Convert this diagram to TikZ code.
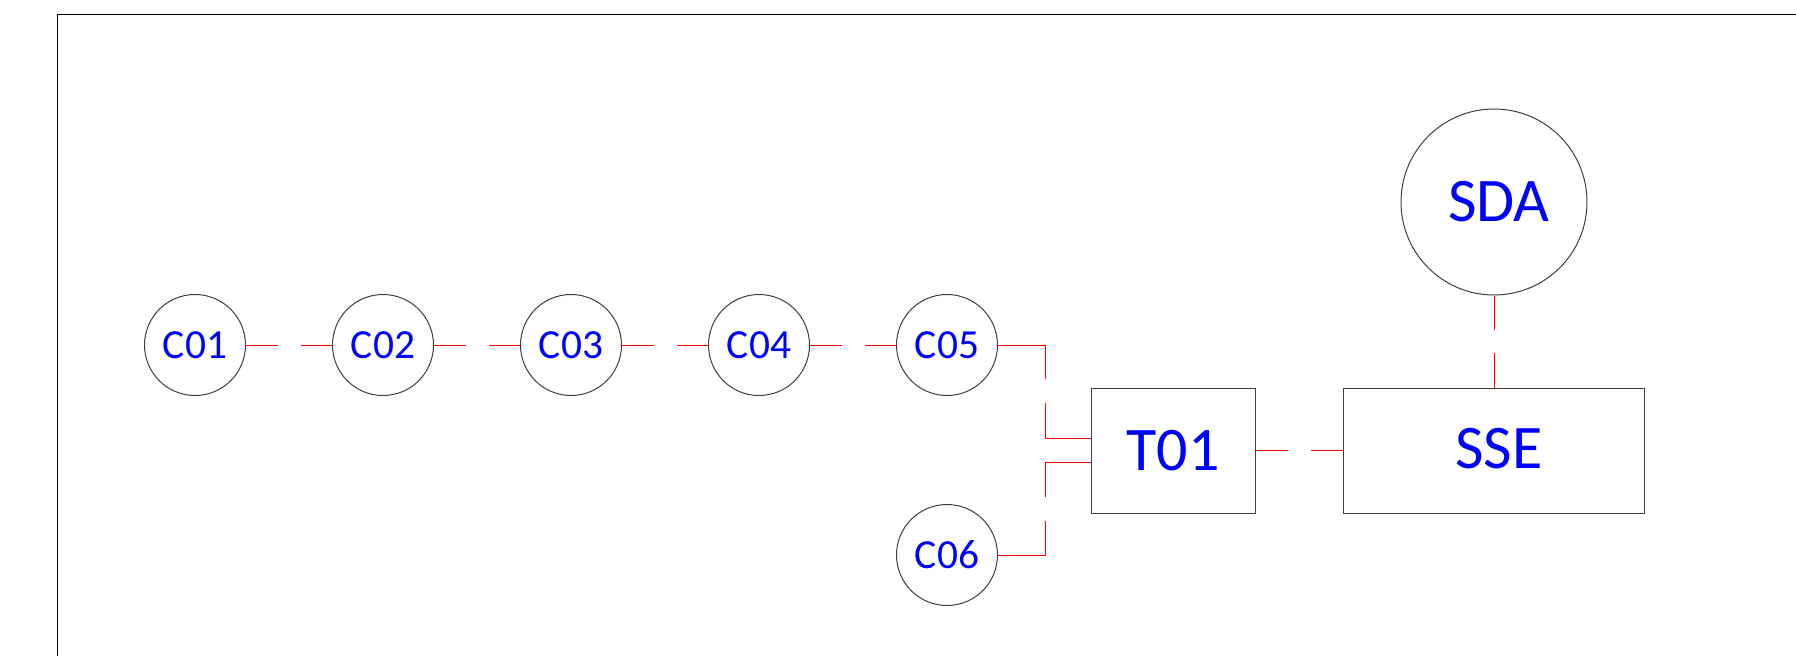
\documentclass[tikz,border=0pt]{standalone}
\usepackage{fontspec}
\setmainfont{Carlito}
\begin{document}
\begin{tikzpicture}[x=0.5pt,y=-0.5pt,
  cnode/.style={circle,draw=black!75,line width=0.5pt,minimum size=50.5pt,inner sep=0pt,text=blue,font=\fontsize{20.7}{24}\selectfont},
  bignode/.style={draw=black!75,line width=0.5pt,inner sep=0pt,text=blue,font=\fontsize{31}{36}\selectfont},
  link/.style={draw=red,line width=0.5pt}]
\useasboundingbox (0,0) rectangle (1796,655);
\draw[line width=0.5pt] (57.5,660) -- (57.5,14.6) -- (1800,14.6);
\node[cnode] (C01) at (195,345) {C01};
\node[cnode] (C02) at (383,345) {C02};
\node[cnode] (C03) at (571,345) {C03};
\node[cnode] (C04) at (759,345) {C04};
\node[cnode] (C05) at (947,345) {C05};
\node[cnode] (C06) at (947,555) {C06};
\node[bignode,rectangle,minimum width=82pt,minimum height=62.5pt] (T01) at (1173,450.5) {T01};
\node[bignode,rectangle,minimum width=150.75pt,minimum height=62.5pt] (SSE) at (1494,450.5) {\hspace*{5pt}\raisebox{2.5pt}{SSE}};
\node[bignode,circle,minimum size=93pt] (SDA) at (1494,202) {\hspace*{5pt}SDA};
\coordinate (kx) at (1045.5,0);
\coordinate (t1) at ([yshift=6pt]T01.west);
\coordinate (t2) at ([yshift=-6pt]T01.west);
\draw[link,dash pattern=on 15.9pt off 11.75pt on 60pt off 1pt] (C01) -- (C02);
\draw[link,dash pattern=on 15.9pt off 11.75pt on 60pt off 1pt] (C02) -- (C03);
\draw[link,dash pattern=on 15.9pt off 11.75pt on 60pt off 1pt] (C03) -- (C04);
\draw[link,dash pattern=on 15.9pt off 11.75pt on 60pt off 1pt] (C04) -- (C05);
\draw[link,dash pattern=on 40.75pt off 12pt on 100pt off 1pt] (C05.east) -- (C05.east -| kx) |- (t1);
\draw[link,dash pattern=on 40.75pt off 12pt on 100pt off 1pt] (C06.east) -- (C06.east -| kx) |- (t2);
\draw[link,dash pattern=on 16.1pt off 11.75pt on 60pt off 1pt] (T01) -- (SSE);
\draw[link,dash pattern=on 17.4pt off 11.5pt on 60pt off 1pt] (SDA) -- (SSE);
\end{tikzpicture}
\end{document}
